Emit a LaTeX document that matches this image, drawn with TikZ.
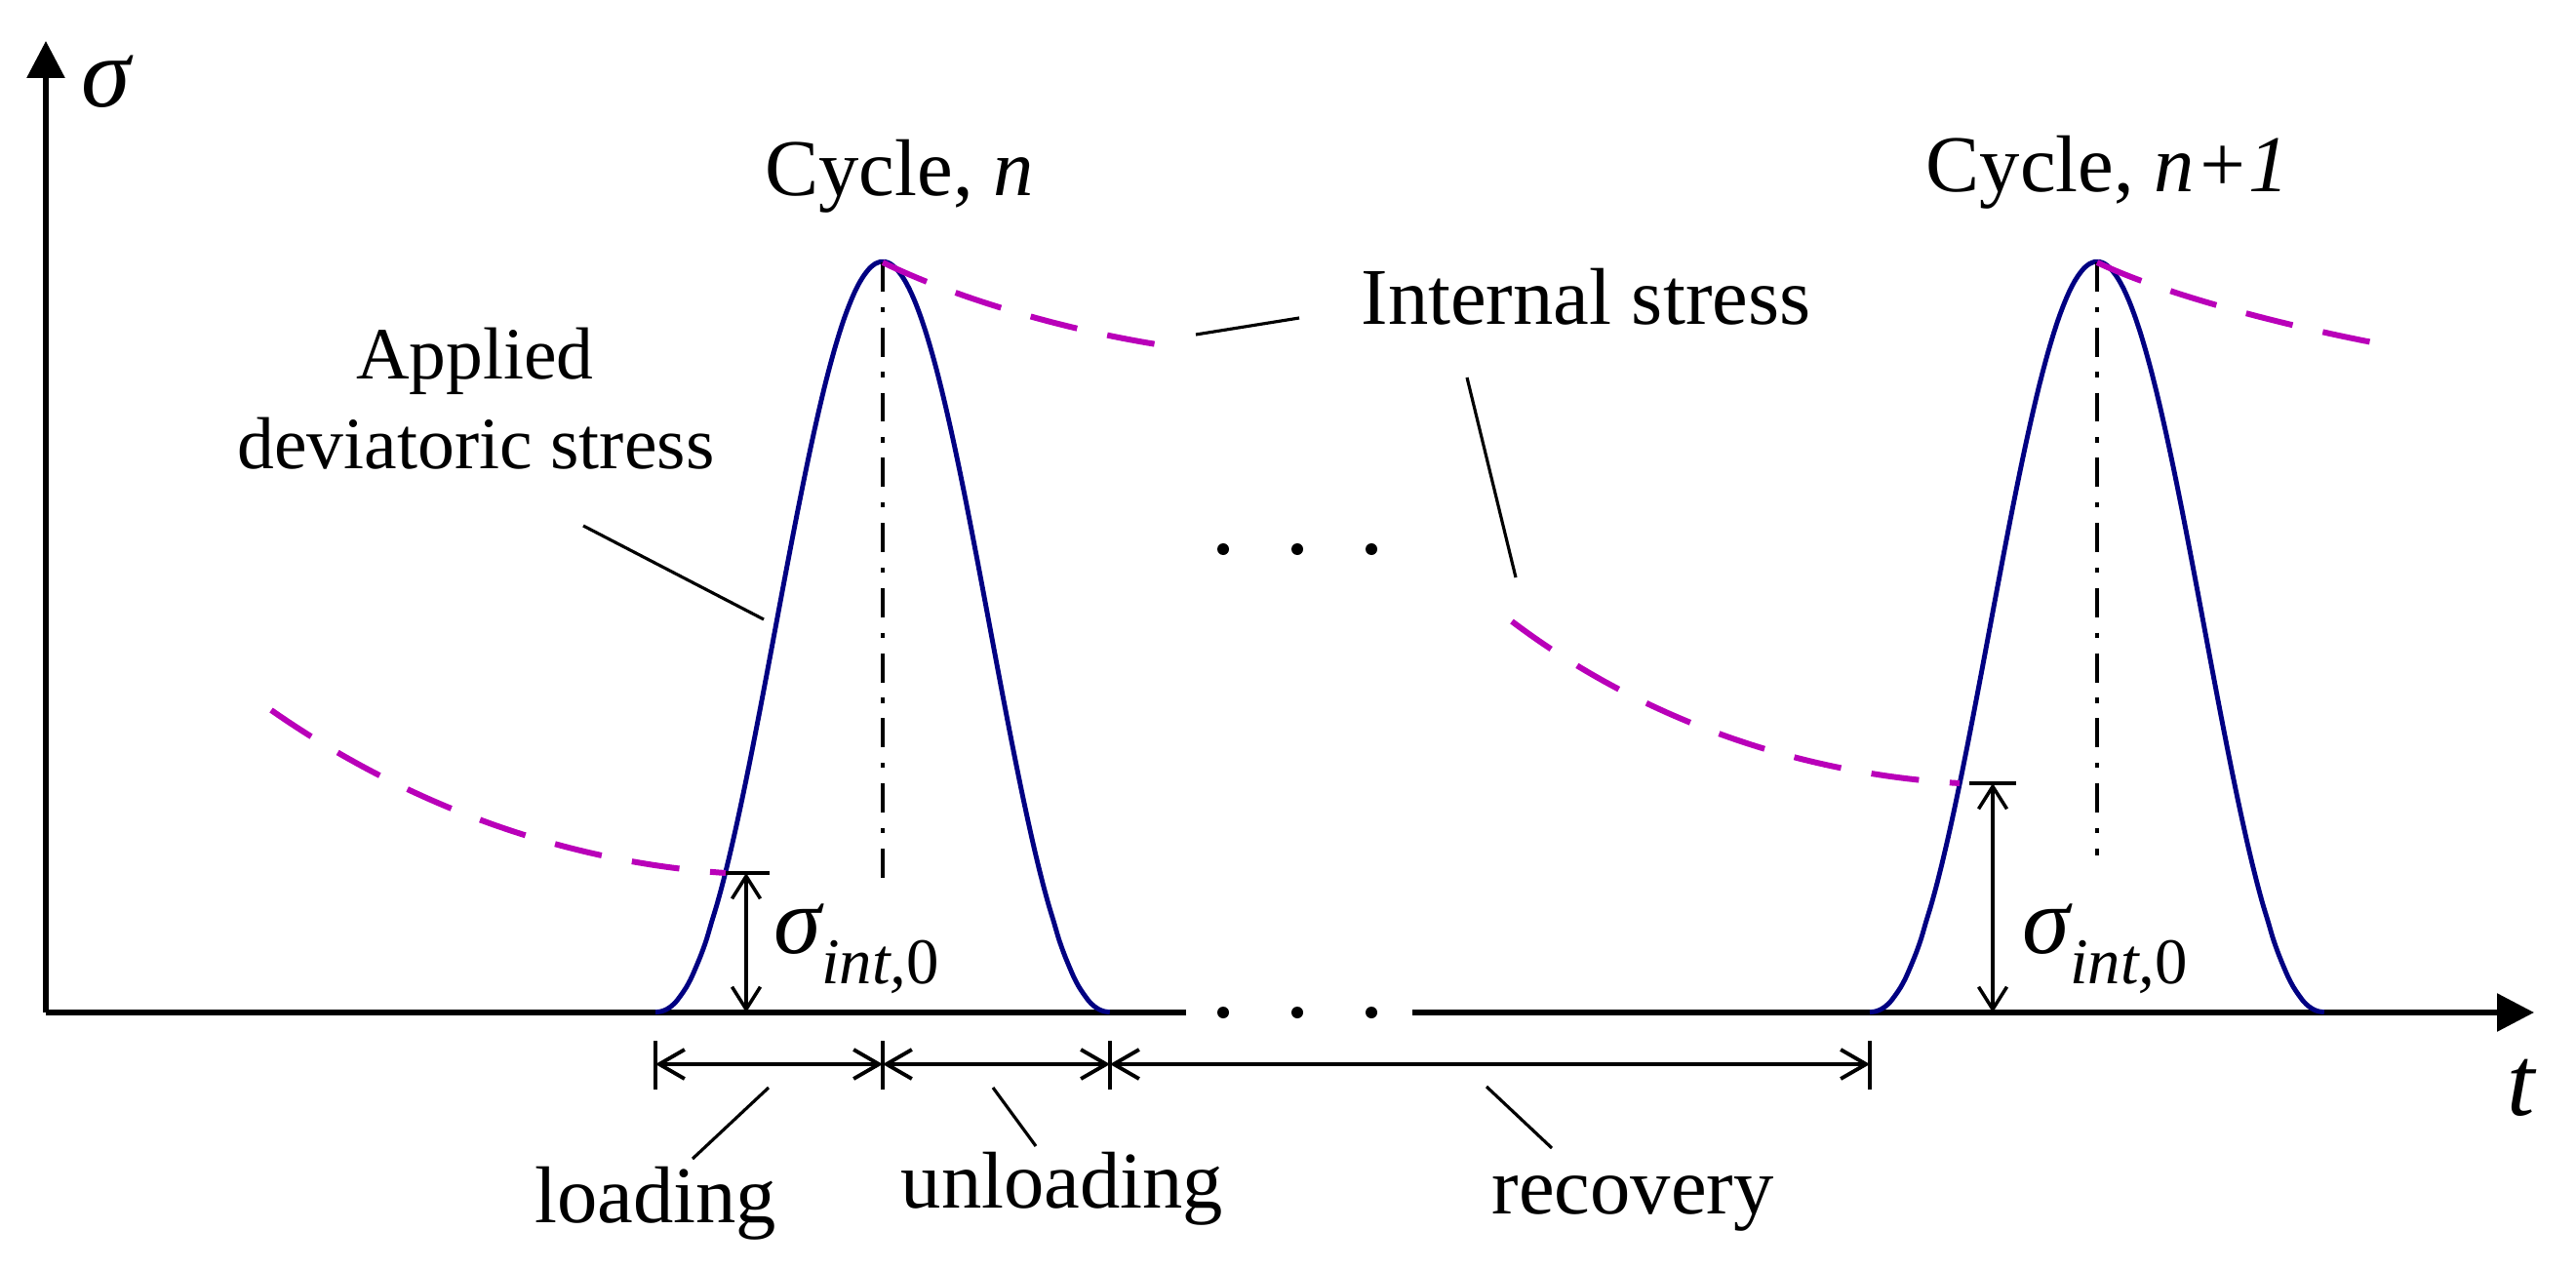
\documentclass[tikz,border=0pt]{standalone}
\usepackage{fontspec}
\setmainfont{Liberation Serif}
\usetikzlibrary{arrows.meta}
\definecolor{loadblue}{RGB}{0,0,130}
\definecolor{intmagenta}{RGB}{185,0,185}
\newcommand{\sigmaint}{{\fontsize{28}{30}\selectfont\itshape σ}\raisebox{-9pt}{\fontsize{19}{22}\selectfont\itshape int,\upshape 0}}

\begin{document}
\begin{tikzpicture}[
    txt/.style={font=\fontsize{23.5}{26}\selectfont, inner sep=0pt},
    smalltxt/.style={font=\fontsize{21.5}{24}\selectfont, inner sep=0pt},
    axislbl/.style={font=\fontsize{29}{31}\selectfont\itshape, inner sep=0pt},
    axisline/.style={line width=1.7pt},
    axis/.style={line width=1.7pt, -{Triangle[length=3.8mm,width=3.8mm]}},
    load/.style={loadblue, line width=1.4pt},
    internal/.style={intmagenta, line width=1.7pt, dash pattern=on 14pt off 9pt},
    peakline/.style={line width=1pt, dash pattern=on 8.5pt off 4.5pt on 1.5pt off 4.5pt},
    leader/.style={line width=0.9pt},
    dimline/.style={line width=1.1pt, {Straight Barb[length=2.6mm,width=3mm]}-{Straight Barb[length=2.6mm,width=3mm]}},
    dimtick/.style={line width=1.3pt},
    sigbar/.style={line width=1.2pt},
    sigarrow/.style={line width=1pt, {Straight Barb[length=2.3mm,width=2.9mm]}-{Straight Barb[length=2.3mm,width=2.9mm]}}
]
    \useasboundingbox (-0.47,-2.63) rectangle (25.94,10.38);

    % axes
    \coordinate (O) at (0,0);
    \draw[axis] (O) -- (0,9.96);
    \draw[axisline] (O) -- (11.69,0);
    \draw[axis] (14.01,0) -- (25.51,0);
    \node[axislbl, anchor=base west] (sigmalbl) at (0.36,9.28) {σ};
    \node[axislbl, anchor=base west] (tlbl) at (25.23,-1.05) {t};

    % dots
    \foreach \x in {12.07,12.83,13.59} {
        \fill (\x,0) circle (0.06);
        \fill (\x,4.75) circle (0.06);
    }

    % cycles
    \coordinate (peakn) at (8.58,7.69);
    \coordinate (peaknn) at (21.03,7.69);
    \draw[load] plot[domain=-1:1, samples=90, smooth] ({8.58+2.33*\x},{7.69*((1+cos(180*\x))/2+0.001)^1.1});
    \draw[load] plot[domain=-1:1, samples=90, smooth] ({21.03+2.33*\x},{7.69*((1+cos(180*\x))/2+0.001)^1.1});
    \draw[peakline] (peakn) -- (8.58,1.38);
    \draw[peakline] (peaknn) -- (21.03,1.61);
    \node[txt, anchor=base] (cyclen) at (8.75,8.37) {Cycle, \textit{n}};
    \node[txt, anchor=base] (cyclenn) at (21.14,8.41) {Cycle, \textit{n+1}};

    % internal stress
    \draw[internal] (2.31,3.10) .. controls (3.6,2.2) and (5.2,1.55) .. (6.97,1.43);
    \draw[internal] (peakn) .. controls (9.38,7.30) and (10.6,6.95) .. (11.66,6.81);
    \draw[internal] (15.03,4.01) .. controls (16.3,3.05) and (17.9,2.45) .. (19.62,2.35);
    \draw[internal] (peaknn) .. controls (21.8,7.32) and (23.2,6.99) .. (23.96,6.85);

    % sigma_int,0
    \draw[sigbar] (6.97,1.43) -- (7.42,1.43);
    \coordinate (sigtopa) at (7.18,1.43);
    \coordinate (sigbota) at (7.18,0);
    \draw[sigarrow] (sigtopa) -- (sigbota);
    \node[anchor=base west, inner sep=0pt] (sigmainta) at (7.46,0.61) {\sigmaint};

    \draw[sigbar] (19.72,2.35) -- (20.20,2.35);
    \coordinate (sigtopb) at (19.96,2.35);
    \coordinate (sigbotb) at (19.96,0);
    \draw[sigarrow] (sigtopb) -- (sigbotb);
    \node[anchor=base west, inner sep=0pt] (sigmaintb) at (20.26,0.61) {\sigmaint};

    % labels with leaders
    \node[smalltxt, anchor=base] (applied) at (4.40,6.49) {Applied};
    \node[smalltxt, anchor=base] (deviatoric) at (4.41,5.57) {deviatoric stress};
    \coordinate (applieda) at (5.51,4.99);
    \coordinate (appliedb) at (7.36,4.03);
    \draw[leader] (applieda) -- (appliedb);

    \node[txt, anchor=base] (internal) at (15.79,7.05) {Internal stress};
    \coordinate (internala) at (12.85,7.12);
    \coordinate (internalb) at (11.79,6.95);
    \coordinate (internalc) at (14.57,6.51);
    \coordinate (internald) at (15.07,4.46);
    \draw[leader] (internala) -- (internalb);
    \draw[leader] (internalc) -- (internald);

    % time intervals
    \coordinate (ta) at (6.25,-0.53);
    \coordinate (tb) at (8.58,-0.53);
    \coordinate (tc) at (10.91,-0.53);
    \coordinate (td) at (18.70,-0.53);
    \foreach \t in {ta,tb,tc,td} {
        \draw[dimtick] ([yshift=0.24cm]\t) -- ([yshift=-0.26cm]\t);
    }
    \draw[dimline] (ta) -- (tb);
    \draw[dimline] (tb) -- (tc);
    \draw[dimline] (tc) -- (td);

    \node[txt, anchor=base] (loading) at (6.25,-2.15) {loading};
    \node[txt, anchor=base] (unloading) at (10.42,-2.00) {unloading};
    \node[txt, anchor=base] (recovery) at (16.27,-2.06) {recovery};
    \coordinate (loadinga) at (7.41,-0.77);
    \coordinate (loadingb) at (6.63,-1.50);
    \coordinate (unloadinga) at (9.71,-0.77);
    \coordinate (unloadingb) at (10.15,-1.37);
    \coordinate (recoverya) at (14.77,-0.76);
    \coordinate (recoveryb) at (15.44,-1.39);
    \draw[leader] (loadinga) -- (loadingb);
    \draw[leader] (unloadinga) -- (unloadingb);
    \draw[leader] (recoverya) -- (recoveryb);
\end{tikzpicture}
\end{document}
